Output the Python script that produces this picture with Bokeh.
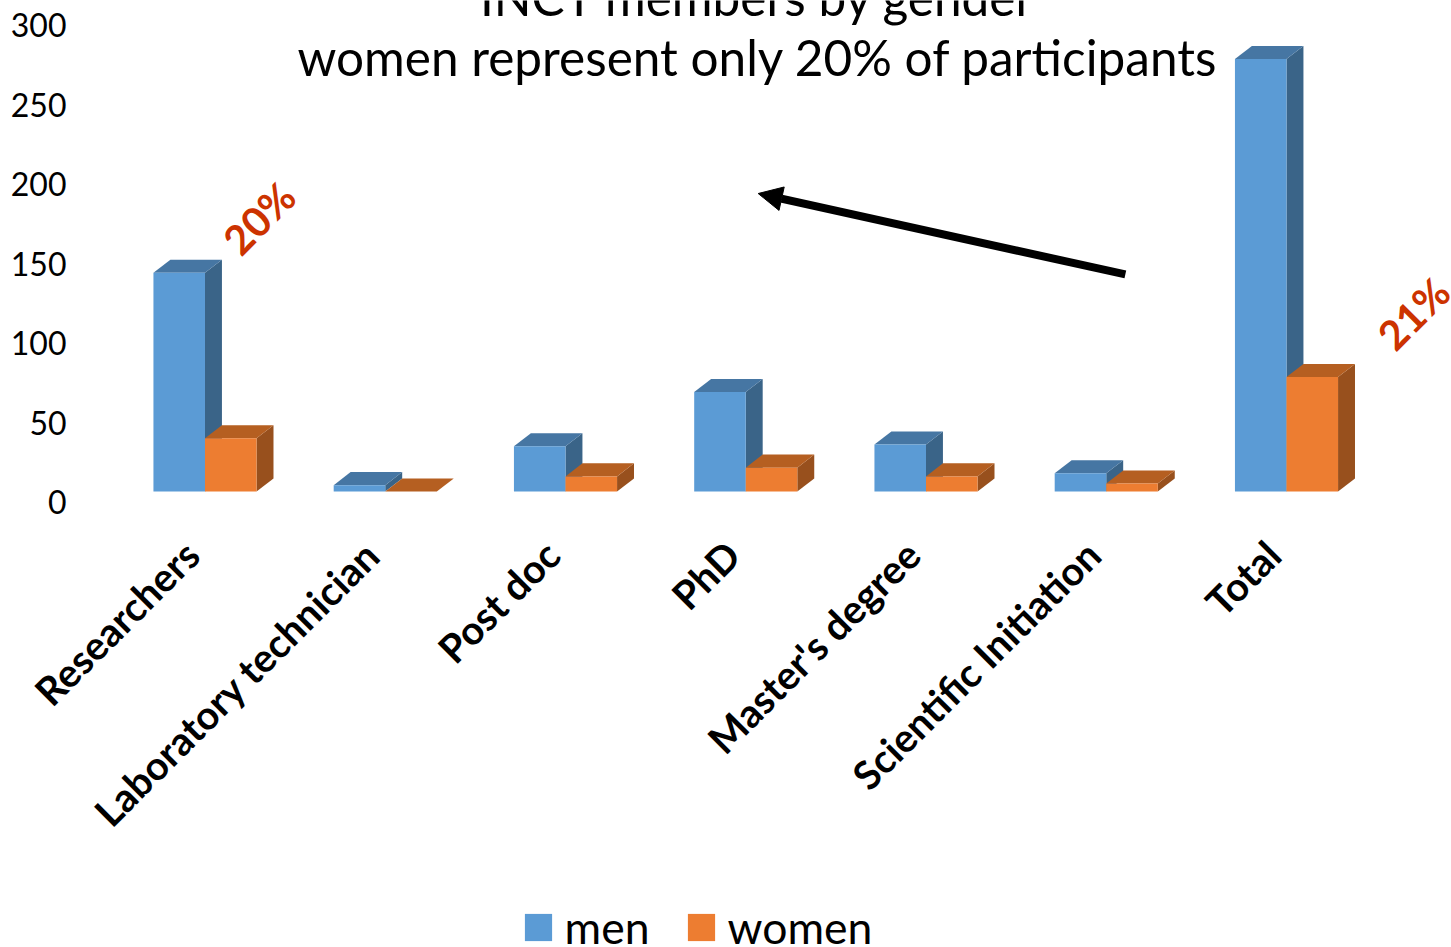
from bokeh.embed import file_html
from bokeh.resources import INLINE
from bokeh.plotting import figure
from bokeh.models import (Range1d, LinearAxis, FixedTicker, Label, Arrow, NormalHead,
                          Legend, LegendItem)
from math import pi

categories = ["Researchers", "Laboratory technician", "Post doc", "PhD",
              "Master's degree", "Scientific Initiation", "Total"]
men = [137.5, 4, 28.5, 62.5, 29.5, 11.5, 272]
women = [33.5, 0, 9.5, 15, 9.5, 5, 72]
y_ticks = [0, 50, 100, 150, 200, 250, 300]

FONT = "Lato"
BLUE, BLUE_TOP, BLUE_SIDE = "#5B9BD5", "#4676A3", "#3A6488"
ORANGE, ORANGE_TOP, ORANGE_SIDE = "#ED7D31", "#B55F21", "#98501D"
BAR_W = 0.286
DEPTH_X = 0.094
DEPTH_Y = 8.2
X0, X1 = -1.1345, 6.9154
LABEL_SHIFT = 0.075


def box_faces(left, vals):
    """Top and side parallelograms of the extruded columns."""
    top_x, top_y, side_x, side_y = [], [], [], []
    for i, v in enumerate(vals):
        x0 = i + left
        x1 = x0 + BAR_W
        top_x.append([x0, x1, x1 + DEPTH_X, x0 + DEPTH_X])
        top_y.append([v, v, v + DEPTH_Y, v + DEPTH_Y])
        side_x.append([x1, x1 + DEPTH_X, x1 + DEPTH_X, x1])
        side_y.append([0, DEPTH_Y, v + DEPTH_Y, v])
    return top_x, top_y, side_x, side_y


p = figure(width=1451, height=947, output_backend="svg", toolbar_location=None,
           x_range=Range1d(X0, X1), y_range=Range1d(-286.8, 308.8),
           x_axis_type=None, y_axis_type=None,
           min_border_left=0, min_border_right=0, min_border_top=0, min_border_bottom=0,
           outline_line_color=None)
p.xgrid.visible = False
p.ygrid.visible = False

# Value axis sits a little below the column floor, as on a 3D wall
p.extra_y_ranges = {"wall": Range1d(-279.9, 315.7)}
yax = LinearAxis(y_range_name="wall", fixed_location=-0.7184, ticker=FixedTicker(ticks=y_ticks))
yax.axis_line_color = None
yax.major_tick_line_color = None
yax.minor_tick_line_color = None
yax.major_label_text_font = FONT
yax.major_label_text_font_size = "32px"
yax.major_label_text_color = "#000000"
yax.major_label_standoff = 3
p.add_layout(yax, "left")

# Category axis runs through the plot area so the legend can sit beneath its labels
p.extra_x_ranges = {"names": Range1d(X0 + LABEL_SHIFT, X1 + LABEL_SHIFT)}
xax = LinearAxis(x_range_name="names", fixed_location=-27.67,
                 ticker=FixedTicker(ticks=list(range(len(categories)))),
                 major_label_overrides={i: c for i, c in enumerate(categories)})
xax.axis_line_color = None
xax.major_tick_line_color = None
xax.minor_tick_line_color = None
xax.major_label_orientation = pi / 4
xax.major_label_text_font = FONT
xax.major_label_text_font_style = "bold"
xax.major_label_text_font_size = "39.5px"
xax.major_label_text_color = "#000000"
xax.major_label_standoff = 6
p.add_layout(xax, "below")

xs = list(range(len(categories)))
for left, vals, front, top, side in [(-BAR_W, men, BLUE, BLUE_TOP, BLUE_SIDE),
                                     (0, women, ORANGE, ORANGE_TOP, ORANGE_SIDE)]:
    tx, ty, sx, sy = box_faces(left, vals)
    p.patches(sx, sy, fill_color=side, line_color=None)
    p.patches(tx, ty, fill_color=top, line_color=None)
    r = p.vbar(x=[i + left + BAR_W / 2 for i in xs], top=vals, bottom=0, width=BAR_W,
               fill_color=front, line_color=None)
    if left < 0:
        men_bar = r
    else:
        women_bar = r

p.add_layout(Label(x=3.068, y=310.7, text="INCT members by gender", text_font=FONT,
                   text_font_size="49.5px", text_color="#000000", text_align="center",
                   text_baseline="middle"))
p.add_layout(Label(x=3.068, y=273.5, text="women represent only 20% of participants",
                   text_font=FONT, text_font_size="49.5px", text_color="#000000",
                   text_align="center", text_baseline="middle"))

p.add_layout(Label(x=0.3, y=172, text="20%", angle=pi / 4, text_font=FONT,
                   text_font_style="bold", text_font_size="41px", text_color="#CC3300",
                   text_align="center", text_baseline="middle"))
p.add_layout(Label(x=6.705, y=112, text="21%", angle=pi / 4, text_font=FONT,
                   text_font_style="bold", text_font_size="41px", text_color="#CC3300",
                   text_align="center", text_baseline="middle"))

p.add_layout(Arrow(x_start=5.106, y_start=136.5, x_end=3.069, y_end=187.4,
                   line_color="#000000", line_width=8,
                   end=NormalHead(size=24, fill_color="#000000", line_color="#000000", line_width=1)))

legend = Legend(items=[LegendItem(label="men", renderers=[men_bar]),
                       LegendItem(label="women", renderers=[women_bar])],
                orientation="horizontal", location=(520.6, -6),
                border_line_color=None, background_fill_alpha=0,
                margin=0, padding=0, spacing=34, label_standoff=10,
                glyph_width=34, glyph_height=34,
                label_text_font=FONT, label_text_font_size="44.5px", label_text_color="#000000")
p.add_layout(legend, "center")

open("out.html", "w").write(file_html(p, INLINE))
